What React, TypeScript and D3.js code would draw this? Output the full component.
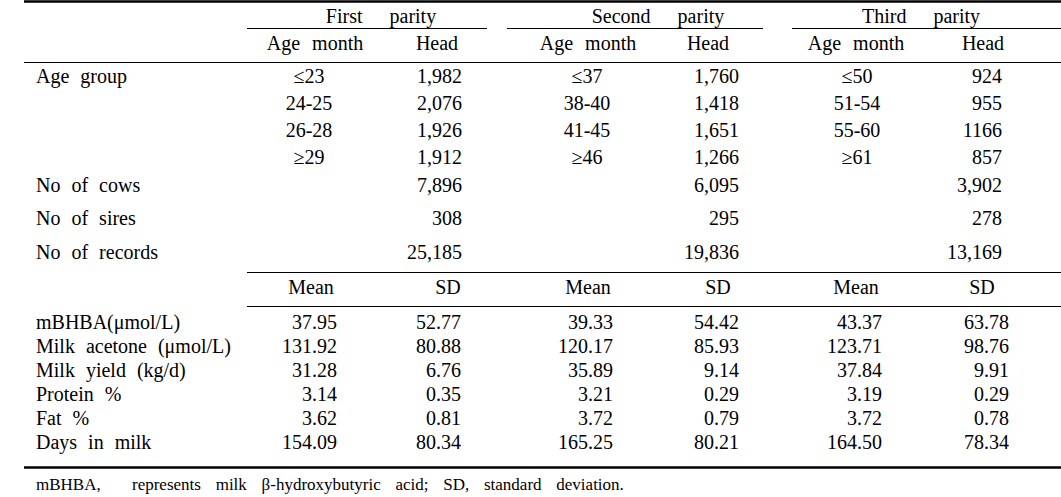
import * as d3 from "d3";

const parities = ["First", "Second", "Third"];
const ageGroups = [
  ["≤23", "24-25", "26-28", "≥29"],
  ["≤37", "38-40", "41-45", "≥46"],
  ["≤50", "51-54", "55-60", "≥61"],
];
const ageHeads = [
  ["1,982", "2,076", "1,926", "1,912"],
  ["1,760", "1,418", "1,651", "1,266"],
  ["924", "955", "1166", "857"],
];
const countLabels = ["No of cows", "No of sires", "No of records"];
const countValues = [
  ["7,896", "308", "25,185"],
  ["6,095", "295", "19,836"],
  ["3,902", "278", "13,169"],
];
const traitLabels = [
  "mBHBA(μmol/L)",
  "Milk acetone (μmol/L)",
  "Milk yield (kg/d)",
  "Protein %",
  "Fat %",
  "Days in milk",
];
const traitMeans = [
  [37.95, 131.92, 31.28, 3.14, 3.62, 154.09],
  [39.33, 120.17, 35.89, 3.21, 3.72, 165.25],
  [43.37, 123.71, 37.84, 3.19, 3.72, 164.5],
];
const traitSDs = [
  [52.77, 80.88, 6.76, 0.35, 0.81, 80.34],
  [54.42, 85.93, 9.14, 0.29, 0.79, 80.21],
  [63.78, 98.76, 9.91, 0.29, 0.78, 78.34],
];
const footLead = "mBHBA,";
const footText = "represents milk β-hydroxybutyric acid; SD, standard deviation.";

// ---- layout ----
const W = 1061;
const H = 497;
const FONT = "'Liberation Serif', 'Times New Roman', serif";
const FS = 20;
const LEFT = 24;
const LABEL_X = 36;

// column anchors per parity group
const COLS = [
  { title: 381, ruleL: 247, ruleR: 487, age: 309, head: 462, mean: 337, sd: 461, hAge: 315, hHead: 437, hMean: 311, hSd: 448 },
  { title: 658, ruleL: 507, ruleR: 763, age: 587, head: 739, mean: 613, sd: 739, hAge: 588, hHead: 708, hMean: 588, hSd: 718 },
  { title: 921, ruleL: 792, ruleR: W, age: 857, head: 1002, mean: 882, sd: 1009, hAge: 856, hHead: 983, hMean: 856, hSd: 982 },
];

const App = () => {
  const fmt = d3.format(".2f");
  const col = d3.scaleOrdinal<string, (typeof COLS)[number]>().domain(parities).range(COLS);

  const yAge = d3.scalePoint<number>().domain(d3.range(ageGroups[0].length)).range([76.5, 157.5]);
  const yCount = d3.scalePoint<number>().domain(d3.range(countLabels.length)).range([185, 252]);
  const yTrait = d3.scalePoint<number>().domain(d3.range(traitLabels.length)).range([322, 442]);

  const txt = { fontFamily: FONT, fontSize: FS, fill: "#000" } as const;
  const dy = "0.33em";

  return (
    <svg width={W} height={H} style={{ position: "absolute", left: 0, top: 0, background: "#fff" }}>
      {/* rules */}
      <line x1={LEFT} x2={W} y1={1.5} y2={1.5} stroke="#000" strokeWidth={2.5} />
      {parities.map((p) => (
        <line key={p} x1={col(p).ruleL} x2={col(p).ruleR} y1={28.5} y2={28.5} stroke="#000" strokeWidth={1} />
      ))}
      <line x1={LEFT} x2={W} y1={62.5} y2={62.5} stroke="#000" strokeWidth={1} />
      <line x1={247} x2={W} y1={272.5} y2={272.5} stroke="#000" strokeWidth={1} />
      <line x1={247} x2={W} y1={306.5} y2={306.5} stroke="#000" strokeWidth={1} />
      <line x1={LEFT} x2={W} y1={467.5} y2={467.5} stroke="#000" strokeWidth={2.5} />

      {/* headers */}
      {parities.map((p) => (
        <g key={p} {...txt}>
          <text x={col(p).title} y={16} dy={dy} textAnchor="middle" style={{ wordSpacing: "22px" }}>
            {p} parity
          </text>
          <text x={col(p).hAge} y={43} dy={dy} textAnchor="middle" style={{ wordSpacing: "7px" }}>
            Age month
          </text>
          <text x={col(p).hHead} y={43} dy={dy} textAnchor="middle">Head</text>
          <text x={col(p).hMean} y={287} dy={dy} textAnchor="middle">Mean</text>
          <text x={col(p).hSd} y={287} dy={dy} textAnchor="middle">SD</text>
        </g>
      ))}

      {/* row labels */}
      <g {...txt} style={{ wordSpacing: "6px" }}>
        <text x={LABEL_X} y={yAge(0)} dy={dy}>Age group</text>
        {countLabels.map((l, i) => (
          <text key={l} x={LABEL_X} y={yCount(i)} dy={dy}>{l}</text>
        ))}
        {traitLabels.map((l, i) => (
          <text key={l} x={LABEL_X} y={yTrait(i)} dy={dy}>{l}</text>
        ))}
      </g>

      {/* values */}
      {parities.map((p, pi) => (
        <g key={p} {...txt}>
          {ageGroups[pi].map((a, i) => (
            <text key={"a" + i} x={col(p).age} y={yAge(i)} dy={dy} textAnchor="middle">{a}</text>
          ))}
          {ageHeads[pi].map((v, i) => (
            <text key={"h" + i} x={col(p).head} y={yAge(i)} dy={dy} textAnchor="end">{v}</text>
          ))}
          {countValues[pi].map((v, i) => (
            <text key={"c" + i} x={col(p).head} y={yCount(i)} dy={dy} textAnchor="end">{v}</text>
          ))}
          {traitMeans[pi].map((v, i) => (
            <text key={"m" + i} x={col(p).mean} y={yTrait(i)} dy={dy} textAnchor="end">{fmt(v)}</text>
          ))}
          {traitSDs[pi].map((v, i) => (
            <text key={"s" + i} x={col(p).sd} y={yTrait(i)} dy={dy} textAnchor="end">{fmt(v)}</text>
          ))}
        </g>
      ))}

      {/* footnote */}
      <g fontFamily={FONT} fontSize={17} fill="#000">
        <text x={LABEL_X} y={484} dy={dy}>{footLead}</text>
        <text x={132} y={484} dy={dy} style={{ wordSpacing: "10.5px" }}>{footText}</text>
      </g>
    </svg>
  );
};

export default App;
